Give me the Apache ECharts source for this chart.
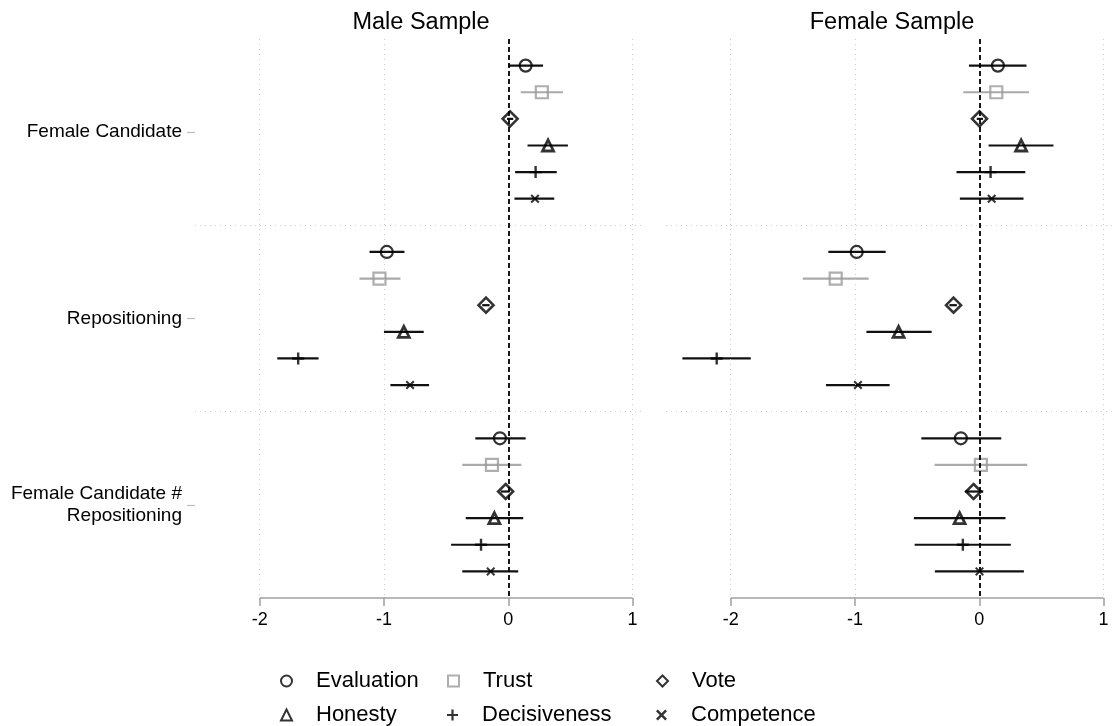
<!DOCTYPE html>
<html>
<head>
<meta charset="utf-8">
<script src="https://cdn.jsdelivr.net/npm/echarts@6/dist/echarts.min.js"></script>
<style>
html,body{margin:0;padding:0;background:#fff;}
#c{width:1115px;height:726px;}
</style>
</head>
<body>
<div id="c"></div>
<script>
// ---- data ----
const groups = ['Female Candidate', 'Repositioning', 'Female Candidate #\nRepositioning'];
const measures = ['Evaluation', 'Trust', 'Vote', 'Honesty', 'Decisiveness', 'Competence'];
const samples = ['Male Sample', 'Female Sample'];
const xTicks = [-2, -1, 0, 1];

// rows: groups; columns: measures
const maleEst = [
  [0.14, 0.27, 0.015, 0.32, 0.22, 0.215],
  [-0.977, -1.036, -0.179, -0.84, -1.69, -0.79],
  [-0.067, -0.131, -0.021, -0.112, -0.219, -0.141]
];
const maleLo = [
  [0.0, 0.10, -0.01, 0.155, 0.055, 0.05],
  [-1.116, -1.197, -0.21, -1.0, -1.858, -0.948],
  [-0.265, -0.37, -0.06, -0.342, -0.46, -0.37]
];
const maleHi = [
  [0.28, 0.44, 0.04, 0.48, 0.39, 0.37],
  [-0.835, -0.867, -0.15, -0.68, -1.526, -0.637],
  [0.14, 0.105, 0.01, 0.12, 0.014, 0.08]
];
const femaleEst = [
  [0.15, 0.137, 0.002, 0.337, 0.091, 0.10],
  [-0.986, -1.155, -0.207, -0.649, -2.112, -0.976],
  [-0.148, 0.013, -0.046, -0.158, -0.132, 0.002]
];
const femaleLo = [
  [-0.083, -0.129, -0.02, 0.075, -0.183, -0.156],
  [-1.214, -1.42, -0.24, -0.908, -2.388, -1.233],
  [-0.466, -0.359, -0.113, -0.526, -0.52, -0.357]
];
const femaleHi = [
  [0.38, 0.40, 0.03, 0.597, 0.37, 0.356],
  [-0.753, -0.89, -0.18, -0.383, -1.838, -0.721],
  [0.177, 0.386, 0.032, 0.211, 0.254, 0.359]
];

// ---- styles ----
const plusPath = 'path://M4,0H6V4H10V6H6V10H4V6H0V4H4Z';
const crossPath = 'path://M0,1.6L1.6,0L5,3.4L8.4,0L10,1.6L6.6,5L10,8.4L8.4,10L5,6.6L1.6,10L0,8.4L3.4,5Z';
const markerStyles = [
  {symbol: 'circle', size: 12, itemStyle: {color: 'rgba(255,255,255,0)', borderColor: '#000', borderWidth: 2.2}, bar: '#111'},
  {symbol: 'rect', size: 12, itemStyle: {color: 'rgba(255,255,255,0)', borderColor: '#9a9a9a', borderWidth: 2.2}, bar: '#aaaaaa'},
  {symbol: 'diamond', size: [15, 15], itemStyle: {color: 'rgba(255,255,255,0)', borderColor: '#000', borderWidth: 2.6}, bar: '#111'},
  {symbol: 'triangle', size: 11, itemStyle: {color: 'rgba(255,255,255,0)', borderColor: '#000', borderWidth: 2.8}, bar: '#111'},
  {symbol: plusPath, size: 12, itemStyle: {color: '#000', borderWidth: 0}, bar: '#111'},
  {symbol: crossPath, size: 9, itemStyle: {color: '#000', borderWidth: 0}, bar: '#111'}
];

const estAll = [maleEst, femaleEst];
const loAll = [maleLo, femaleLo];
const hiAll = [maleHi, femaleHi];

const FONT = '"Liberation Sans", Arial, Helvetica, sans-serif';
const slot = (g, i) => 7 * g + 1 + i;

const grids = [
  {left: 195, top: 39, width: 450, height: 559, outerBoundsMode: 'none', containLabel: false},
  {left: 666, top: 39, width: 450, height: 559, outerBoundsMode: 'none', containLabel: false}
];

const xAxes = samples.map((s, k) => ({
  type: 'value', gridIndex: k, min: -2.52, max: 1.1, position: 'bottom',
  axisLine: {show: false, onZero: false},
  splitLine: {show: false},
  axisTick: {show: true, customValues: xTicks, length: 8, lineStyle: {color: '#a0a0a0', width: 1.5}},
  axisLabel: {show: true, customValues: xTicks, fontSize: 18, color: '#000', fontFamily: FONT, margin: 13,
    formatter: v => String(v)}
}));

const yAxes = samples.map((s, k) => ({
  type: 'value', gridIndex: k, min: 0, max: 21, inverse: true, position: 'left',
  axisLine: {show: false, onZero: false},
  splitLine: {show: false},
  axisTick: {show: k === 0, customValues: [3.5, 10.5, 17.5], length: 8, lineStyle: {color: '#bbbbbb', width: 1.2}},
  axisLabel: {show: k === 0, customValues: [3.5, 10.5, 17.5], fontSize: 19, color: '#000', fontFamily: FONT, margin: 13,
    align: 'right', lineHeight: 22,
    formatter: v => groups[Math.round((v - 3.5) / 7)]}
}));

const series = [];
samples.forEach((s, k) => {
  // axis line from -2 to 1, plus reference/grid lines
  series.push({
    type: 'line', xAxisIndex: k, yAxisIndex: k, silent: true, clip: false,
    data: [[-2, 21], [1, 21]], symbol: 'none',
    lineStyle: {color: '#a0a0a0', width: 1.5}, z: 1, animation: false,
    markLine: {
      silent: true, symbol: ['none', 'none'], label: {show: false}, animation: false,
      lineStyle: {color: '#cccccc', type: [1, 4], width: 1},
      data: [
        {xAxis: -2}, {xAxis: -1}, {xAxis: 1},
        {yAxis: 7}, {yAxis: 14},
        {xAxis: 0, lineStyle: {color: '#000', type: [5, 3], width: 1.8}}
      ]
    }
  });
  measures.forEach((m, i) => {
    const ms = markerStyles[i];
    const bars = [], pts = [];
    groups.forEach((g, gi) => {
      bars.push([slot(gi, i), loAll[k][gi][i], hiAll[k][gi][i]]);
      pts.push([estAll[k][gi][i], slot(gi, i)]);
    });
    series.push({
      type: 'custom', name: m + ' CI', xAxisIndex: k, yAxisIndex: k, silent: true, z: 3,
      encode: {x: [1, 2], y: 0},
      data: bars, animation: false,
      renderItem: (params, api) => {
        const y = api.value(0), lo = api.value(1), hi = api.value(2);
        const p1 = api.coord([lo, y]), p2 = api.coord([hi, y]);
        return {type: 'line', shape: {x1: p1[0], y1: p1[1], x2: p2[0], y2: p2[1]},
          style: {stroke: ms.bar, lineWidth: 2.2}};
      }
    });
    series.push({
      type: 'scatter', name: m, xAxisIndex: k, yAxisIndex: k, z: 4, silent: true,
      symbol: ms.symbol, symbolSize: ms.size, itemStyle: ms.itemStyle,
      data: pts, animation: false
    });
  });
});

// legends: 3 columns x 2 rows
const legendCols = [285, 452, 661];
const legendRows = [682, 716];
const legends = measures.map((m, i) => ({
  data: [m],
  left: legendCols[i % 3] - 5,
  top: legendRows[Math.floor(i / 3)] - 12,
  padding: 0,
  itemWidth: 11, itemHeight: 11,
  selectedMode: false,
  textStyle: {fontSize: 22, color: '#000', fontFamily: FONT, padding: [0, 0, 0, 19]}
}));

const titles = samples.map((s, k) => ({
  text: s,
  left: k === 0 ? 421 : 892,
  top: 11,
  textAlign: 'center',
  padding: 0,
  textStyle: {fontSize: 23.5, fontWeight: 'normal', color: '#000', fontFamily: FONT}
}));

const chart = echarts.init(document.getElementById('c'), null, {renderer: 'canvas'});
chart.setOption({
  backgroundColor: '#fff',
  animation: false,
  title: titles,
  legend: legends,
  grid: grids,
  xAxis: xAxes,
  yAxis: yAxes,
  series: series
});
</script>
</body>
</html>
